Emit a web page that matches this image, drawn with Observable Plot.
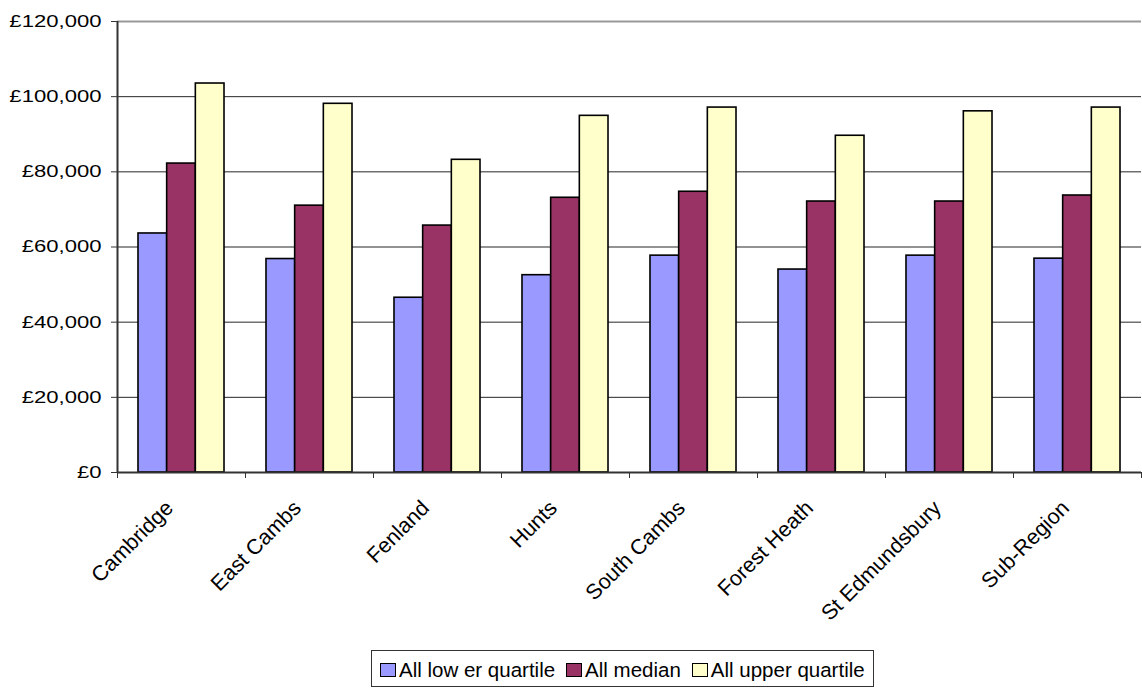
<!DOCTYPE html>
<html>
<head>
<meta charset="utf-8">
<script src="https://cdn.jsdelivr.net/npm/d3@7"></script>
<script src="https://cdn.jsdelivr.net/npm/@observablehq/plot@0.6"></script>
<style>
  body { margin: 0; background: #fff; font-family: "Liberation Sans", Arial, sans-serif; }
  #chart { position: relative; width: 1142px; height: 691px; }
  #legend {
    position: absolute; left: 371px; top: 650px; height: 37px;
    border: 1px solid #333; box-sizing: border-box;
    display: inline-flex; align-items: center; gap: 11px;
    padding: 2px 8px 0 8px;
    font-size: 20.5px; color: #000;
  }
  #legend .item { display: flex; align-items: center; gap: 3px; white-space: pre; }
  #legend .swatch { width: 16px; height: 14px; border: 1.5px solid #000; box-sizing: border-box; }
</style>
</head>
<body>
<div id="chart"><div id="legend"></div></div>
<script>
// Housing price quartiles by area
const areas = ["Cambridge", "East Cambs", "Fenland", "Hunts", "South Cambs", "Forest Heath", "St Edmundsbury", "Sub-Region"];
const seriesNames = ["All low er quartile", "All median", "All upper quartile"];
const lowerQuartile = [63600, 56800, 46500, 52500, 57700, 54000, 57700, 56900];
const median = [82200, 71000, 65700, 73100, 74700, 72100, 72100, 73700];
const upperQuartile = [103500, 98100, 83200, 94900, 97100, 89600, 96100, 97100];
const seriesColors = ["#9999FF", "#993366", "#FFFFCC"];
const yTicks = [0, 20000, 40000, 60000, 80000, 100000, 120000];

const seriesValues = [lowerQuartile, median, upperQuartile];

// One row per bar; the three bars of a group sit side by side within each category slot
const barWidth = 0.224;
const groupStart = 0.5 - 1.5 * barWidth;
const rows = [];
areas.forEach((area, i) => {
  seriesNames.forEach((name, j) => {
    rows.push({ area, index: i, slot: j, series: name, value: seriesValues[j][i] });
  });
});

const fmt = d3.format(",");

const plot = Plot.plot({
  width: 1142,
  height: 625,
  marginLeft: 117,
  marginRight: 1,
  marginTop: 21,
  marginBottom: 153,
  style: { fontFamily: "Liberation Sans, Arial, sans-serif", fontSize: "17px", color: "#000", background: "#fff" },
  x: { domain: [0, areas.length], axis: null },
  y: { domain: [0, 120000], axis: null, label: null },
  color: { domain: seriesNames, range: seriesColors },
  marks: [
    Plot.gridY(yTicks.filter(d => d > 0 && d < 120000), { stroke: "#000", strokeOpacity: 0.85, strokeWidth: 1 }),
    Plot.ruleY([120000], { stroke: "#999", strokeWidth: 2 }),
    Plot.rectY(rows, {
      x1: d => d.index + groupStart + d.slot * barWidth,
      x2: d => d.index + groupStart + (d.slot + 1) * barWidth,
      y: "value",
      fill: "series",
      stroke: "#000",
      strokeWidth: 1.6
    }),
    Plot.ruleX([0], { stroke: "#333", strokeWidth: 2 }),
    Plot.ruleY([0], { stroke: "#333", strokeWidth: 2 }),
    Plot.axisY(yTicks, {
      tickSize: 6,
      tickPadding: 10,
      stroke: "#333",
      label: null,
      tickFormat: d => "£" + fmt(d),
      fontSize: 17
    }),
    Plot.axisX(d3.range(areas.length + 1), {
      tickSize: 6,
      stroke: "#333",
      label: null,
      tickFormat: () => ""
    }),
    Plot.axisX(d3.range(areas.length).map(i => i + 0.5), {
      tickSize: 0,
      tickPadding: 32,
      dx: -12,
      tickRotate: -45,
      label: null,
      tickFormat: d => areas[Math.floor(d)],
      fontSize: 21.5
    })
  ]
});

// Widen the y-axis lettering
d3.select(plot).selectAll('g[aria-label="y-axis tick label"] text').each(function () {
  const t = this.getAttribute("transform");
  if (t) {
    this.setAttribute("transform", t + " scale(1.3,1)");
  } else {
    const x = this.getAttribute("x") || 0;
    this.removeAttribute("x");
    this.setAttribute("transform", `translate(${x},0) scale(1.3,1)`);
  }
});

const chart = document.getElementById("chart");
chart.insertBefore(plot, chart.firstChild);

// Legend box below the chart
const legend = d3.select("#legend");
seriesNames.forEach((name, j) => {
  const item = legend.append("div").attr("class", "item");
  item.append("div").attr("class", "swatch").style("background", seriesColors[j]);
  item.append("span").text(name);
});
</script>
</body>
</html>
